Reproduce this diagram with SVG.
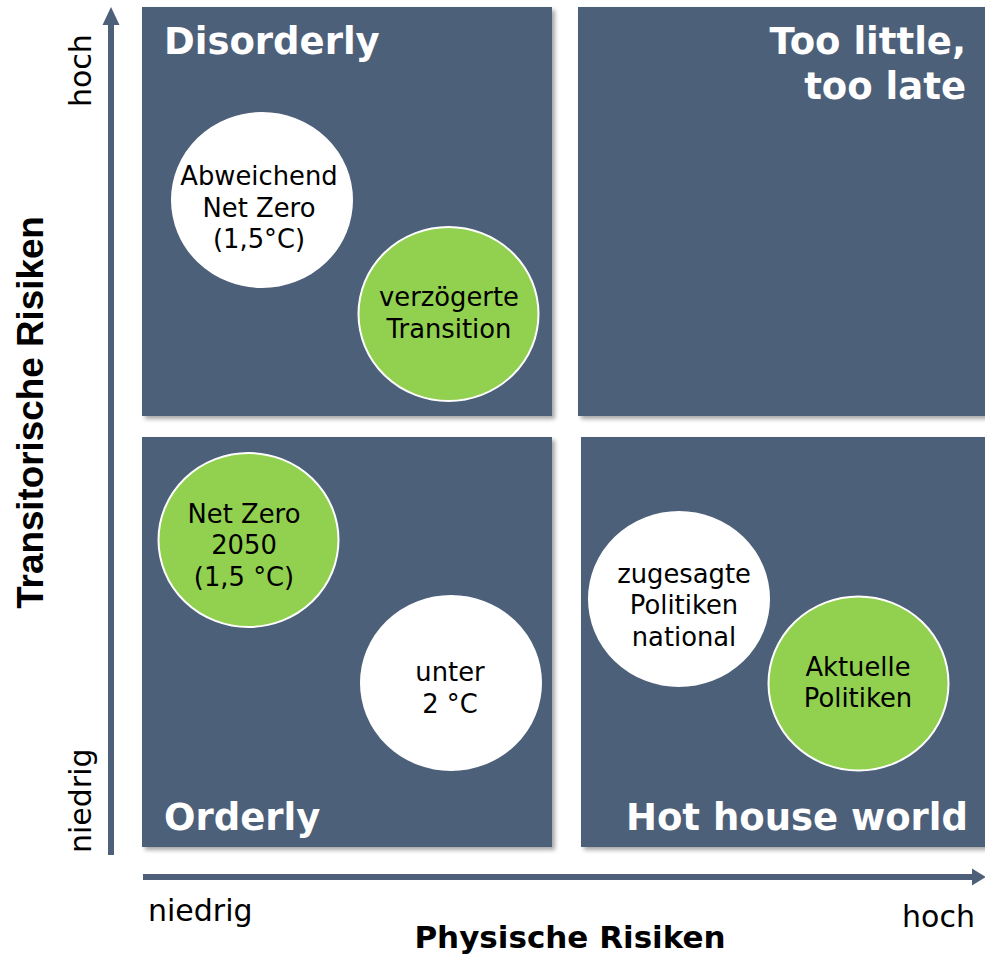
<svg xmlns="http://www.w3.org/2000/svg" width="985" height="956" viewBox="0 0 985 956">
<style>
.box{fill:#4e6079;filter:url(#sh)}
.title{font-family:"DejaVu Sans",Verdana,sans-serif;font-weight:bold;font-size:37px;fill:#fff}
.c-white{fill:#fff;stroke:#fff;stroke-width:2}
.c-green{fill:#92d050;stroke:#fff;stroke-width:2}
.ct{font-family:"DejaVu Sans",Verdana,sans-serif;font-size:25.8px;fill:#000;text-anchor:middle}
.ax{font-family:"DejaVu Sans",Verdana,sans-serif;font-size:30px;fill:#000}
.axt{font-family:"DejaVu Sans",Verdana,sans-serif;font-size:31px;font-weight:bold;fill:#000}
.axl{stroke:#4e6079;stroke-width:6;fill:none}
.head{fill:#4e6079}
</style>
<defs>
<filter id="sh" x="-5%" y="-5%" width="115%" height="115%">
<feDropShadow dx="3" dy="3" stdDeviation="2" flood-color="#000" flood-opacity="0.35"/>
</filter>
</defs>
<rect width="985" height="956" fill="#fff"/>

<g id="connectors">
<line class="axl" x1="111" y1="855" x2="111" y2="22"/>
<polygon class="head" points="111,7 102.5,25 119.5,25"/>
<line class="axl" x1="143" y1="877" x2="975" y2="877"/>
<polygon class="head" points="986,877 972,868.5 972,885.5"/>
</g>

<g id="quadrant-disorderly">
<rect class="box" x="142" y="7" width="410" height="409"/>
<text class="title" x="164" y="54">Disorderly</text>
</g>
<g id="quadrant-too-little">
<rect class="box" x="578" y="7" width="410" height="409"/>
<text class="title" x="966" y="54" text-anchor="end">Too little,</text>
<text class="title" x="966" y="99" text-anchor="end">too late</text>
</g>
<g id="quadrant-orderly">
<rect class="box" x="142" y="437" width="410" height="410"/>
<text class="title" x="164" y="830">Orderly</text>
</g>
<g id="quadrant-hothouse">
<rect class="box" x="581" y="437" width="410" height="410"/>
<text class="title" x="968" y="830" text-anchor="end">Hot house world</text>
</g>

<g id="node-abweichend">
<ellipse class="c-white" cx="262" cy="200" rx="90" ry="87"/>
<text class="ct" x="259" y="185">Abweichend</text>
<text class="ct" x="259" y="216.7">Net Zero</text>
<text class="ct" x="259" y="248.3">(1,5°C)</text>
</g>
<g id="node-verzoegert">
<ellipse class="c-green" cx="448.5" cy="314" rx="90" ry="87"/>
<text class="ct" x="449" y="305.7">verzögerte</text>
<text class="ct" x="449" y="338.3">Transition</text>
</g>
<g id="node-netzero2050">
<ellipse class="c-green" cx="248.5" cy="540" rx="90" ry="87"/>
<text class="ct" x="244" y="522.7">Net Zero</text>
<text class="ct" x="244" y="554.3">2050</text>
<text class="ct" x="244" y="586">(1,5 °C)</text>
</g>
<g id="node-unter2">
<ellipse class="c-white" cx="451" cy="683" rx="90" ry="87"/>
<text class="ct" x="450" y="680.7">unter</text>
<text class="ct" x="450" y="713">2 °C</text>
</g>
<g id="node-zugesagt">
<ellipse class="c-white" cx="679" cy="599" rx="90" ry="87"/>
<text class="ct" x="684" y="582.7">zugesagte</text>
<text class="ct" x="684" y="614.3">Politiken</text>
<text class="ct" x="684" y="646">national</text>
</g>
<g id="node-aktuell">
<ellipse class="c-green" cx="858.5" cy="683.5" rx="90" ry="87"/>
<text class="ct" x="858" y="675.7">Aktuelle</text>
<text class="ct" x="858" y="707.3">Politiken</text>
</g>

<g id="axis-labels">
<text class="ax" transform="translate(91,107) rotate(-90)">hoch</text>
<text class="ax" transform="translate(91,853) rotate(-90)">niedrig</text>
<text transform="translate(43,412.5) rotate(-90)" text-anchor="middle" font-family="'Liberation Sans',Arial,sans-serif" font-weight="bold" font-size="36.8" fill="#000">Transitorische Risiken</text>
<text class="ax" x="148" y="921">niedrig</text>
<text class="ax" x="975" y="927" text-anchor="end">hoch</text>
<text class="axt" x="570" y="948" text-anchor="middle">Physische Risiken</text>
</g>
</svg>
